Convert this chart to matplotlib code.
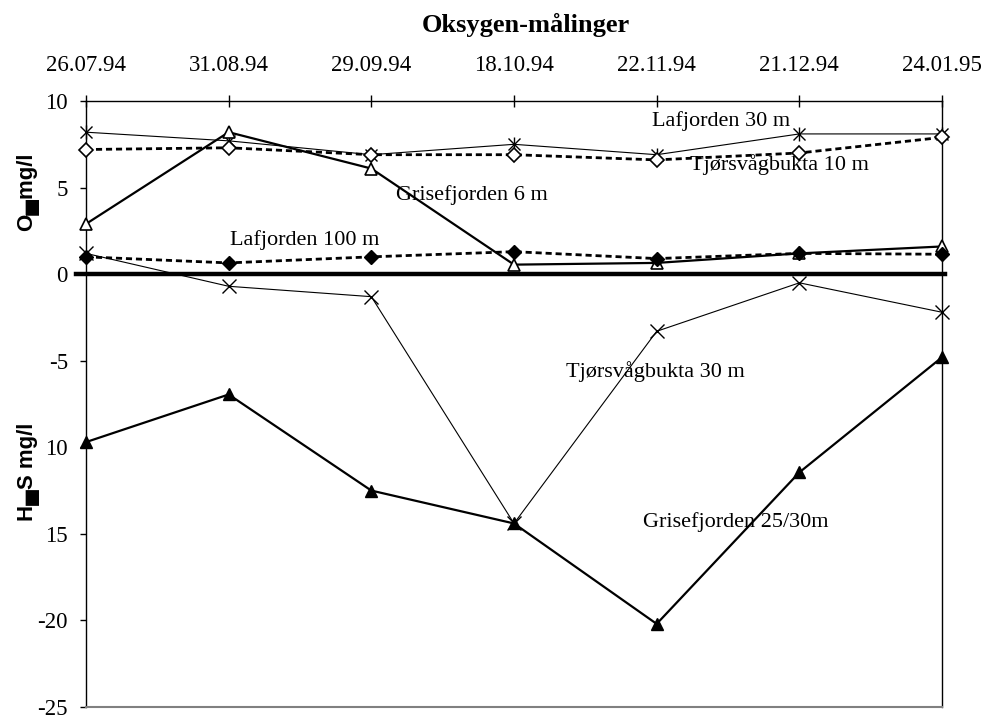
# -*- coding: utf-8 -*-
import numpy as np
import matplotlib
matplotlib.use('Agg')
import matplotlib.pyplot as plt

# data
dates = ['26.07.94', '31.08.94', '29.09.94', '18.10.94', '22.11.94', '21.12.94', '24.01.95']
lafjorden_30 = [8.2, 7.7, 6.9, 7.5, 6.9, 8.1, 8.1]
tjorsvag_10 = [7.2, 7.3, 6.9, 6.9, 6.6, 7.0, 7.9]
grise_6 = [2.9, 8.2, 6.1, 0.55, 0.65, 1.2, 1.6]
lafjorden_100 = [1.0, 0.65, 1.0, 1.3, 0.9, 1.2, 1.15]
tjorsvag_30 = [1.2, -0.7, -1.3, -14.4, -3.3, -0.5, -2.2]
grise_25 = [-9.7, -6.95, -12.5, -14.4, -20.2, -11.45, -4.8]
yticks = [-25, -20, -15, -10, -5, 0, 5, 10]
ytick_labels = ['-25', '-20', '15', '10', '-5', '0', '5', '10']

serif = 'Liberation Serif'
sans = ['Liberation Sans', 'DejaVu Sans']

fig = plt.figure(figsize=(9.86, 7.15), dpi=100)
ax = fig.add_axes([0.0872, 0.0112, 0.8682, 0.8475])
x = np.arange(len(dates))

dash = (0, (2.2, 1.4))
kw = dict(color='black', clip_on=False, zorder=3)
ax.plot(x, lafjorden_30, '-', lw=0.8, marker='x', ms=9, mew=1, **kw)
ax.plot(x, lafjorden_30, ls='none', marker='|', ms=10, mew=1, **kw)
ax.plot(x, tjorsvag_10, ls=dash, lw=2, marker='D', ms=7, mfc='white', mec='black', mew=1.2, **kw)
ax.plot(x, grise_6, '-', lw=1.6, marker='^', ms=9, mfc='white', mec='black', mew=1.2, **kw)
ax.plot(x, lafjorden_100, ls=dash, lw=2, marker='D', ms=7, mfc='black', mec='black', **kw)
ax.plot(x, tjorsvag_30, '-', lw=0.8, marker='x', ms=10, mew=1, **kw)
ax.plot(x, grise_25, '-', lw=1.6, marker='^', ms=9, mfc='black', mec='black', **kw)

# thick zero line
ax.axhline(0, xmin=-0.012, xmax=1.004, color='black', lw=3.2, clip_on=False, zorder=2)

ax.set_xlim(0, len(dates) - 1)
ax.set_ylim(-25, 10)

ax.xaxis.tick_top()
ax.set_xticks(x)
ax.set_xticklabels(dates, fontfamily=serif, fontsize=16.5)
ax.tick_params(axis='x', direction='inout', length=8.5, width=1, pad=14)
ax.set_yticks(yticks)
ax.set_yticklabels(ytick_labels, fontfamily=serif, fontsize=16.5)
ax.tick_params(axis='y', direction='out', length=4.3, width=1, pad=8.7)

for s in ['top', 'left', 'right']:
    ax.spines[s].set_color('black')
    ax.spines[s].set_linewidth(1)
ax.spines['bottom'].set_color('#808080')
ax.spines['bottom'].set_linewidth(1.5)

# series labels
lab = dict(transform=ax.transAxes, ha='center', va='center', fontfamily=serif, fontsize=16)
ax.text(0.742, 0.967, 'Lafjorden 30 m', **lab)
ax.text(0.810, 0.896, 'Tjørsvågbukta 10 m', **lab)
ax.text(0.451, 0.845, 'Grisefjorden 6 m', **lab)
ax.text(0.256, 0.771, 'Lafjorden 100 m', **lab)
ax.text(0.665, 0.554, 'Tjørsvågbukta 30 m', **lab)
ax.text(0.759, 0.306, 'Grisefjorden 25/30m', **lab)

fig.text(526 / 986., 1 - 25 / 715., 'Oksygen-målinger', ha='center', va='center',
         fontfamily=serif, fontsize=19, fontweight='bold')
fig.text(28 / 986., 1 - 192 / 715., 'O▄mg/l', rotation=90, ha='center', va='center',
         family=sans, fontsize=16, fontweight='bold')
fig.text(28 / 986., 1 - 472 / 715., 'H▄S mg/l', rotation=90, ha='center', va='center',
         family=sans, fontsize=16, fontweight='bold')

plt.savefig('out.png', dpi=100)
